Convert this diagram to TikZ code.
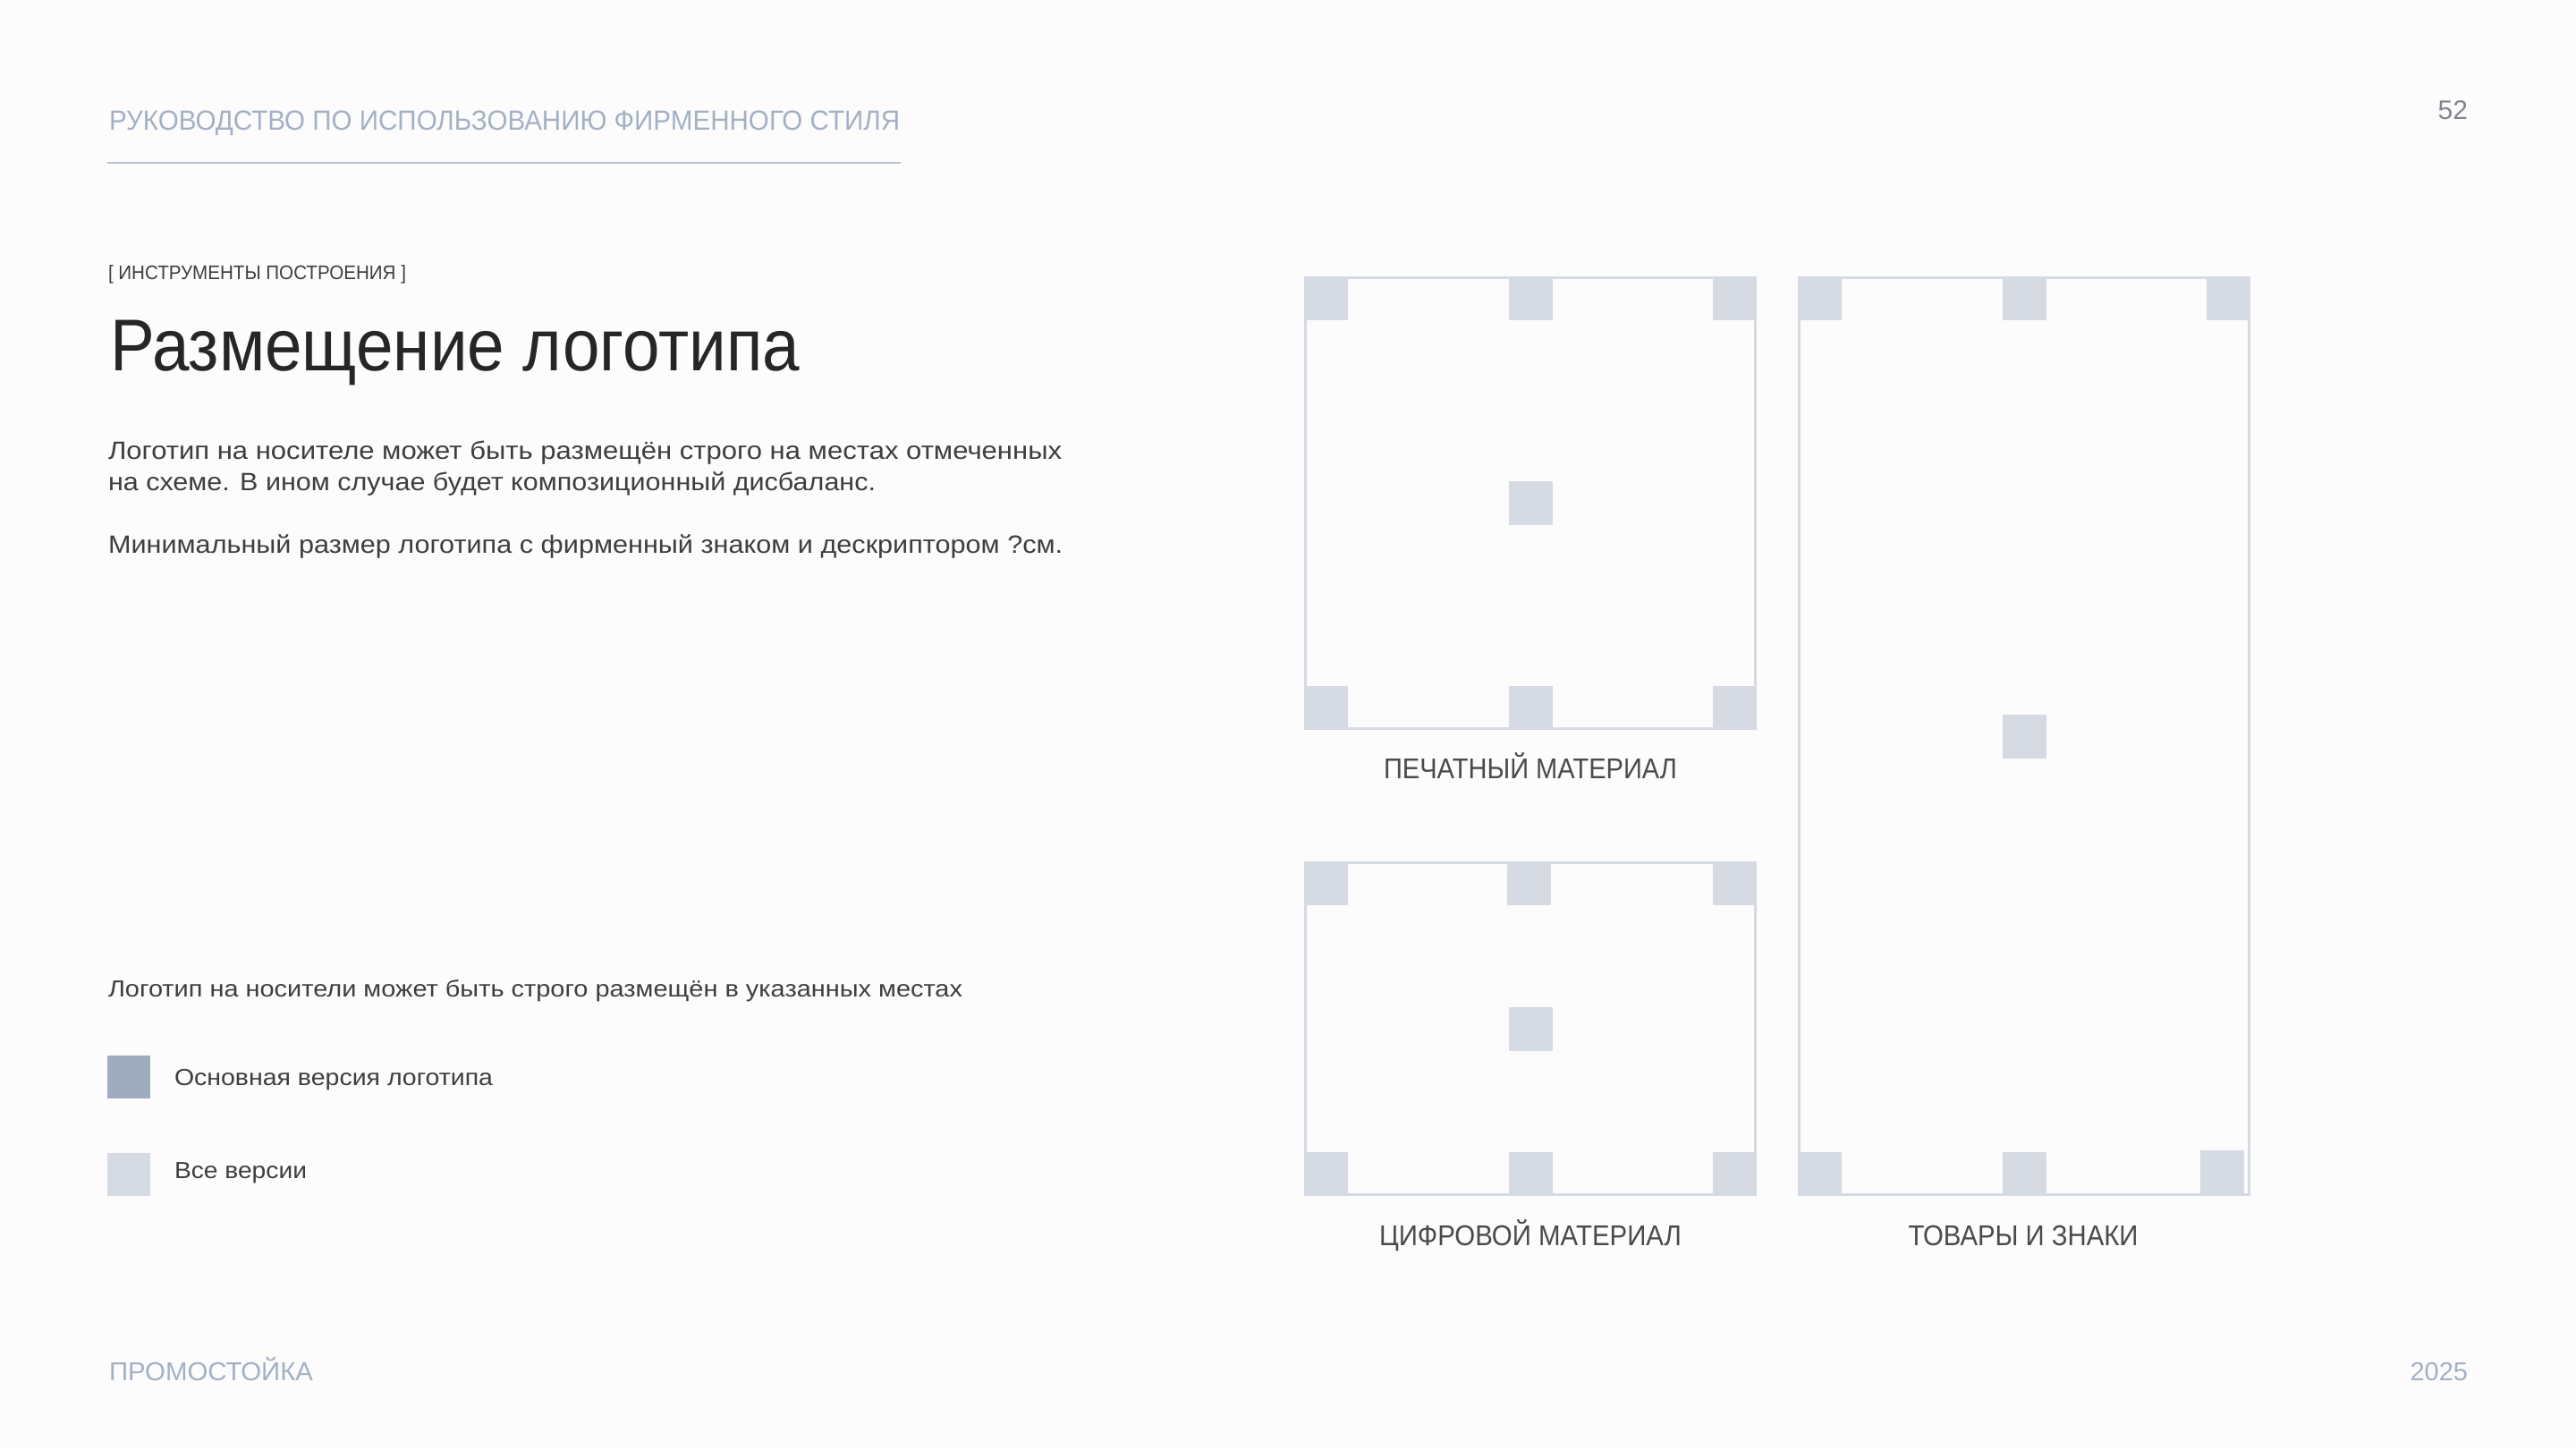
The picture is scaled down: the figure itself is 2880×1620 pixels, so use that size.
\documentclass[tikz,border=0pt]{standalone}
\usepackage{fontspec}
\usepackage{graphicx}
\setmainfont{Liberation Sans}
\definecolor{bgc}{HTML}{FCFCFC}
\definecolor{mutedc}{HTML}{A3B0C5}
\definecolor{pagec}{HTML}{83868F}
\definecolor{titlec}{HTML}{262626}
\definecolor{bodyc}{HTML}{3E3E3E}
\definecolor{labelc}{HTML}{4A4A4A}
\definecolor{sqlight}{HTML}{D5DAE3}
\definecolor{sqdark}{HTML}{9FACBF}
\definecolor{rulec}{HTML}{B9C3D3}
\newcommand\fitw[2]{\resizebox{#1pt}{\height}{#2}}
\newcommand\fsz[1]{\fontsize{#1}{#1}\selectfont}
\begin{document}
\begin{tikzpicture}[x=1pt,y=-1pt,
  txt/.style={inner sep=0pt, outer sep=0pt, anchor=base west},
  txte/.style={inner sep=0pt, outer sep=0pt, anchor=base east},
  txtc/.style={inner sep=0pt, outer sep=0pt, anchor=base},
  sq/.style={fill=sqlight},
  frame/.style={draw=sqlight, line width=3pt}]
\path[fill=bgc] (0,0) rectangle (2880,1620);
\useasboundingbox (0,0) rectangle (2880,1620);

% header
\node[txt, text=mutedc] (hdr) at (122,145) {\fsz{31}\fitw{884}{РУКОВОДСТВО ПО ИСПОЛЬЗОВАНИЮ ФИРМЕННОГО СТИЛЯ}};
\coordinate (rl) at (120,182);
\coordinate (rr) at (1007,182);
\draw[rulec, line width=1.5pt] (rl) -- (rr);
\node[txte, text=pagec] (pg) at (2759,133) {\fsz{30}52};

% left column
\node[txt, text=bodyc] (tag) at (121,312) {\fsz{22}\fitw{333}{[ ИНСТРУМЕНТЫ ПОСТРОЕНИЯ ]}};
\node[txt, text=titlec] (title) at (123,414) {\fsz{82}\fitw{771}{Размещение логотипа}};
\node[txt, text=bodyc] (p1a) at (121,513) {\fsz{28}\fitw{1066}{Логотип на носителе может быть размещён строго на местах отмеченных}};
\node[txt, text=bodyc] (p1b) at (121,548) {\fsz{28}\fitw{858}{на схеме. В ином случае будет композиционный дисбаланс.}};
\node[txt, text=bodyc] (p2) at (121,618) {\fsz{28}\fitw{1067}{Минимальный размер логотипа с фирменный знаком и дескриптором ?см.}};

\node[txt, text=bodyc] (note) at (121,1114) {\fsz{26}\fitw{955}{Логотип на носители может быть строго размещён в указанных местах}};
\fill[sqdark] (120,1180) rectangle (168,1228);
\node[txt, text=bodyc] (lg1) at (195,1213) {\fsz{26}\fitw{356}{Основная версия логотипа}};
\fill[sqlight] (120,1289) rectangle (168,1337);
\node[txt, text=bodyc] (lg2) at (195,1317) {\fsz{26}\fitw{148}{Все версии}};

% footer
\node[txt, text=mutedc] (ft) at (122,1543) {\fsz{29}\fitw{228}{ПРОМОСТОЙКА}};
\node[txte, text=mutedc] (yr) at (2759,1543) {\fsz{29}2025};

% box 1: print
\draw[frame] (1459.5,310.5) rectangle (1962.5,814.5);
\fill[sq] (1458,309) rectangle (1507,358);
\fill[sq] (1686.5,309) rectangle (1735.5,358);
\fill[sq] (1915,309) rectangle (1964,358);
\fill[sq] (1686.5,538) rectangle (1735.5,587);
\fill[sq] (1458,767) rectangle (1507,816);
\fill[sq] (1686.5,767) rectangle (1735.5,816);
\fill[sq] (1915,767) rectangle (1964,816);
\node[txtc, text=labelc] (l1) at (1711,870) {\fsz{32}\fitw{328}{ПЕЧАТНЫЙ МАТЕРИАЛ}};

% box 2: digital
\draw[frame] (1459.5,964.5) rectangle (1962.5,1335.5);
\fill[sq] (1458,963) rectangle (1507,1012);
\fill[sq] (1685,963) rectangle (1734,1012);
\fill[sq] (1915,963) rectangle (1964,1012);
\fill[sq] (1686.5,1125.5) rectangle (1735.5,1174.5);
\fill[sq] (1458,1288) rectangle (1507,1337);
\fill[sq] (1686.5,1288) rectangle (1735.5,1337);
\fill[sq] (1915,1288) rectangle (1964,1337);
\node[txtc, text=labelc] (l2) at (1711,1392) {\fsz{32}\fitw{338}{ЦИФРОВОЙ МАТЕРИАЛ}};

% box 3: goods
\draw[frame] (2011.5,310.5) rectangle (2514.5,1335.5);
\fill[sq] (2010,309) rectangle (2059,358);
\fill[sq] (2238.5,309) rectangle (2287.5,358);
\fill[sq] (2467,309) rectangle (2516,358);
\fill[sq] (2238.5,798.5) rectangle (2287.5,847.5);
\fill[sq] (2010,1288) rectangle (2059,1337);
\fill[sq] (2238.5,1288) rectangle (2287.5,1337);
\fill[sq] (2460,1286) rectangle (2509,1335);
\node[txtc, text=labelc] (l3) at (2262,1392) {\fsz{32}\fitw{257}{ТОВАРЫ И ЗНАКИ}};
\end{tikzpicture}
\end{document}
